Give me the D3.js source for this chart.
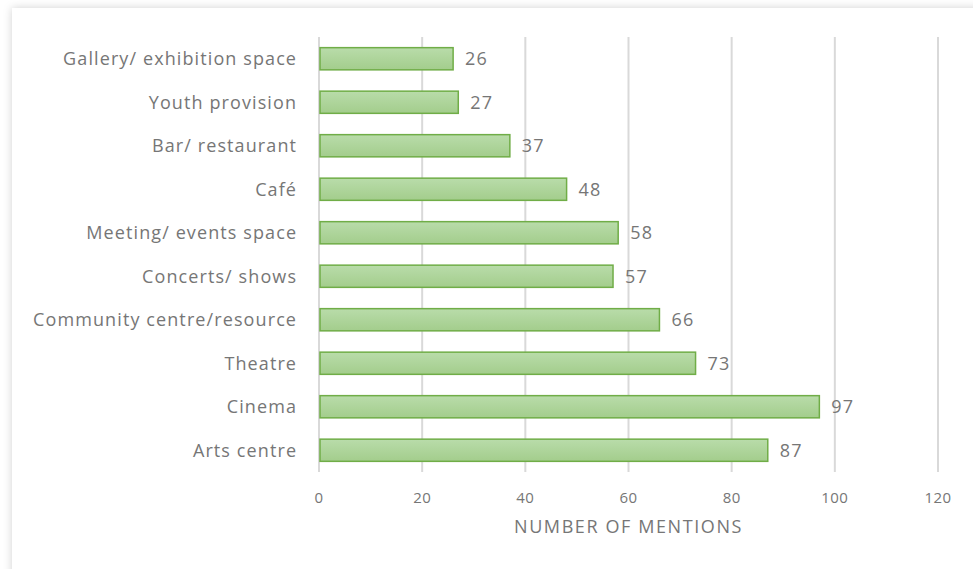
<!DOCTYPE html>
<html><head><meta charset="utf-8">
<script src="https://cdn.jsdelivr.net/npm/d3@7"></script>
<style>
html,body{margin:0;padding:0;background:#fff;}
svg{display:block;}
text{font-family:"Open Sans","Lato",sans-serif;}
</style></head>
<body>
<script>
const categories = ["Gallery/ exhibition space","Youth provision","Bar/ restaurant","Café","Meeting/ events space","Concerts/ shows","Community centre/resource","Theatre","Cinema","Arts centre"];
const values = [26,27,37,48,58,57,66,73,97,87];
const xTicks = [0,20,40,60,80,100,120];
const axisTitle = "NUMBER OF MENTIONS";

const W=973,H=569;
const txt="#767676";
const svg=d3.select("body").append("svg").attr("width",W).attr("height",H);
const defs=svg.append("defs");
const f=defs.append("filter").attr("id","sh").attr("x","-5%").attr("y","-5%").attr("width","110%").attr("height","110%");
f.append("feDropShadow").attr("dx",0).attr("dy",0).attr("stdDeviation",4).attr("flood-color","#000").attr("flood-opacity",0.18);
const g=defs.append("linearGradient").attr("id","bg").attr("x1",0).attr("y1",0).attr("x2",0).attr("y2",1);
g.append("stop").attr("offset","0%").attr("stop-color","#b9dcaa");
g.append("stop").attr("offset","100%").attr("stop-color","#a3cd8c");

svg.append("rect").attr("x",12).attr("y",8).attr("width",975).attr("height",575).attr("fill","#fff").attr("filter","url(#sh)");

const x=d3.scaleLinear().domain([0,120]).range([319,938]);
const y=d3.scaleBand().domain(categories).range([37,472]).paddingInner(0.49).paddingOuter(0.245);

function fitSpacing(sel, sampleIdx, target){
  const node=sel.nodes()[sampleIdx];
  const w=node.getComputedTextLength();
  const n=node.textContent.length;
  sel.attr("letter-spacing",(target-w)/n);
}

svg.append("g").selectAll("line").data(xTicks).join("line")
 .attr("x1",d=>x(d)).attr("x2",d=>x(d)).attr("y1",37).attr("y2",472)
 .attr("stroke","#d9d9d9").attr("stroke-width",2);

svg.append("g").selectAll("rect").data(values).join("rect")
 .attr("x",x(0)+1).attr("y",(d,i)=>y(categories[i]))
 .attr("width",d=>x(d)-x(0)-1).attr("height",y.bandwidth())
 .attr("fill","url(#bg)").attr("stroke","#70ad47").attr("stroke-width",1.5);

const vl=svg.append("g").selectAll("text").data(values).join("text")
 .attr("x",d=>x(d)+12).attr("y",(d,i)=>y(categories[i])+y.bandwidth()/2)
 .attr("dy","0.35em").attr("font-size",18).attr("fill",txt).text(d=>d);
fitSpacing(vl,0,23);

const cl=svg.append("g").selectAll("text").data(categories).join("text")
 .attr("x",296).attr("y",d=>y(d)+y.bandwidth()/2).attr("dy","0.35em")
 .attr("text-anchor","end").attr("font-size",18).attr("fill",txt).text(d=>d);
fitSpacing(cl,0,234);
cl.attr("x",296+ +cl.attr("letter-spacing"));

const tl=svg.append("g").selectAll("text").data(xTicks).join("text")
 .attr("x",d=>x(d)).attr("y",498).attr("dy","0.35em").attr("text-anchor","middle")
 .attr("font-size",15).attr("fill",txt).text(d=>d);
fitSpacing(tl,5,27);

const at=svg.append("text").attr("x",x(60)).attr("y",527).attr("dy","0.35em").attr("text-anchor","middle")
 .attr("font-size",18).attr("fill",txt).text(axisTitle);
fitSpacing(at,0,229);
</script>
</body></html>
